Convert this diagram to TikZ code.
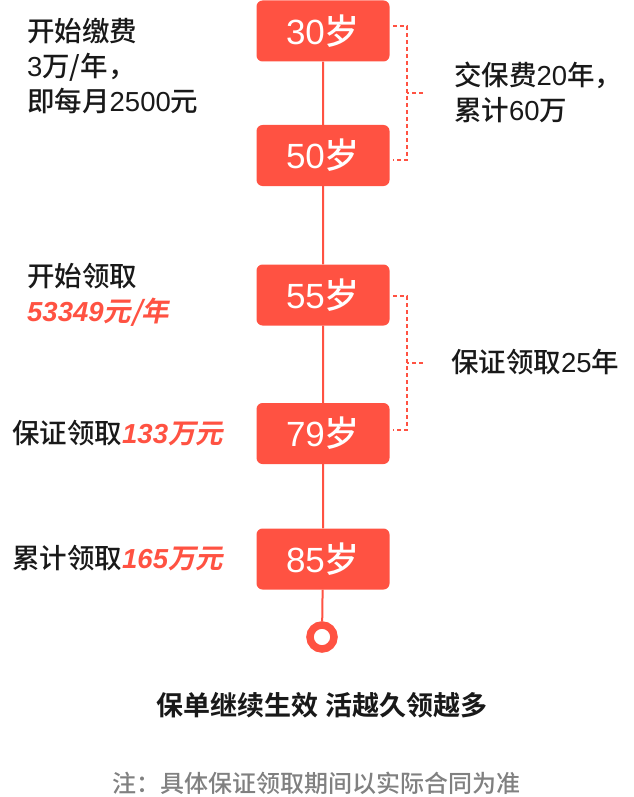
\documentclass[tikz,border=0pt]{standalone}
\usepackage{fontspec}
\setmainfont{Noto Sans CJK SC Medium}[BoldFont={Noto Sans CJK SC Bold}]
\newfontfamily\rednum{Noto Sans CJK SC Bold}[FakeSlant=0.2]
\newfontfamily\latin{Liberation Sans}
\usetikzlibrary{positioning}
\definecolor{age red}{HTML}{FF5242}
\colorlet{note text}{black!90}
\colorlet{foot text}{black!50}
\def\spinex{322}
\def\age#1{{\latin #1}岁}
\def\redsum#1#2{\textcolor{age red}{{\latin\bfseries\itshape #1}{\rednum #2}}}
\tikzset{agebox/.style={fill=age red, rounded corners=6pt, minimum width=133pt, minimum height=61pt, text=white, font=\fontsize{35}{35}\selectfont},
	note/.style={text=note text, font=\fontsize{27.5}{35}\selectfont, align=left, anchor=west, inner sep=0pt},
	spine/.style={draw=age red, line width=2pt},
	bracket/.style={draw=age red, line width=1.2pt, dash pattern=on 4pt off 3pt}}

\begin{document}
\begin{tikzpicture}[x=1pt,y=-1pt]
		\useasboundingbox (0,0) rectangle (633,797);
		\node[agebox] (b30) at (323,31) {\age{30}};
		\node[agebox] (b50) at (323,155.5) {\age{50}};
		\node[agebox] (b55) at (323,295) {\age{55}};
		\node[agebox] (b79) at (323,433.5) {\age{79}};
		\node[agebox] (b85) at (323,559) {\age{85}};
		\node[circle, draw=age red, line width=7.5pt, minimum size=24pt, inner sep=0pt] (end) at (\spinex,637) {};
		\draw[spine] (b30) -- (b50) -- (b55) -- (b79) -- (b85) -- (end);
		
		% brackets
		\coordinate (pay top) at (393,26);
		\coordinate (pay bot) at (393,160);
		\coordinate (pay mid) at (423,93);
		\draw[bracket] (pay top) -- ++(14,0) |- (pay bot);
		\draw[bracket] (pay mid) -- ++(-16,0);
		\coordinate (get top) at (393,296);
		\coordinate (get bot) at (393,430);
		\coordinate (get mid) at (423,363);
		\draw[bracket] (get top) -- ++(14,0) |- (get bot);
		\draw[bracket] (get mid) -- ++(-16,0);
		
		\node[note] (start pay) at (27,66) {开始缴费\\{\latin 3}万/年，\\即每月{\latin 2500}元};
		\node[note] (pay sum) at (454,92.5) {交保费{\latin 20}年，\\累计{\latin 60}万};
		\node[note] (start get) at (27,295) {开始领取\\\redsum{53349}{元/年}};
		\node[note] (get sum) at (451,362) {保证领取{\latin 25}年};
		\node[note] (sure get) at (12,433) {保证领取\redsum{133}{万元}};
		\node[note] (total get) at (12,558) {累计领取\redsum{165}{万元}};
		\node[text=note text, font=\fontsize{27}{27}\selectfont\bfseries] (slogan) at (322,705) {保单继续生效 活越久领越多};
		\node[text=foot text, font=\fontsize{24}{24}\selectfont] (foot) at (316.5,783) {注：具体保证领取期间以实际合同为准};
		\end{tikzpicture}
\end{document}
